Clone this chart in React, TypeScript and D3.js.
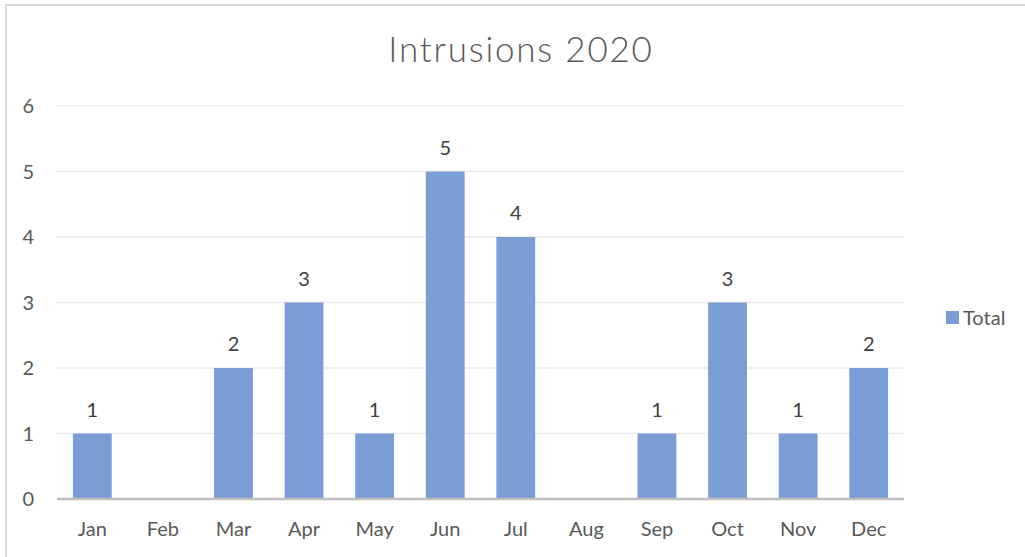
import { scaleBand, scaleLinear } from "d3"

const months = ["Jan", "Feb", "Mar", "Apr", "May", "Jun", "Jul", "Aug", "Sep", "Oct", "Nov", "Dec"]
const totals = [1, 0, 2, 3, 1, 5, 4, 0, 1, 3, 1, 2]
const yTicks = [0, 1, 2, 3, 4, 5, 6]
const seriesName = "Total"
const chartTitle = "Intrusions 2020"

const width = 1025
const height = 557
const plot = { left: 57, right: 904, top: 106, bottom: 499 }
const barColor = "#7b9dd6"
const font = "Lato, 'Open Sans', sans-serif"

export default function App() {
  const x = scaleBand<string>().domain(months).range([plot.left, plot.right]).paddingInner(0.45).paddingOuter(0.225)
  const y = scaleLinear().domain([0, 6]).range([plot.bottom, plot.top])

  return (
    <svg width={width} height={height} style={{ position: "absolute", left: 0, top: 0, background: "#fff" }} fontFamily={font}>
      <rect x={6} y={5} width={width + 10} height={height + 10} fill="#fff" stroke="#d9d9d9" strokeWidth={2} />

      <text x={521} y={62} textAnchor="middle" fontSize={35} fontWeight={300} letterSpacing={1.8} fill="#595959">{chartTitle}</text>

      {yTicks.map((tick) => (
        <g key={tick}>
          {tick > 0 && <line x1={plot.left} x2={plot.right} y1={y(tick)} y2={y(tick)} stroke="#ebebeb" strokeWidth={1.5} />}
          <text x={34} y={y(tick)} dy="0.35em" textAnchor="end" fontSize={20} fill="#595959">{tick}</text>
        </g>
      ))}

      {months.map((m, i) => {
        const v = totals[i]
        const bx = x(m) ?? 0
        const cx = bx + x.bandwidth() / 2
        return (
          <g key={m}>
            {v > 0 && <rect x={bx} y={y(v)} width={x.bandwidth()} height={y(0) - y(v)} fill={barColor} />}
            {v > 0 && <text x={cx} y={y(v) - 17} textAnchor="middle" fontSize={20} fill="#404040">{v}</text>}
            <text x={cx} y={536} textAnchor="middle" fontSize={20} fill="#595959">{m}</text>
          </g>
        )
      })}

      <line x1={plot.left} x2={plot.right} y1={y(0)} y2={y(0)} stroke="#bfbfbf" strokeWidth={2.5} />

      <rect x={946} y={311} width={13} height={13} fill={barColor} />
      <text x={963} y={325} fontSize={20} fill="#595959">{seriesName}</text>
    </svg>
  )
}
